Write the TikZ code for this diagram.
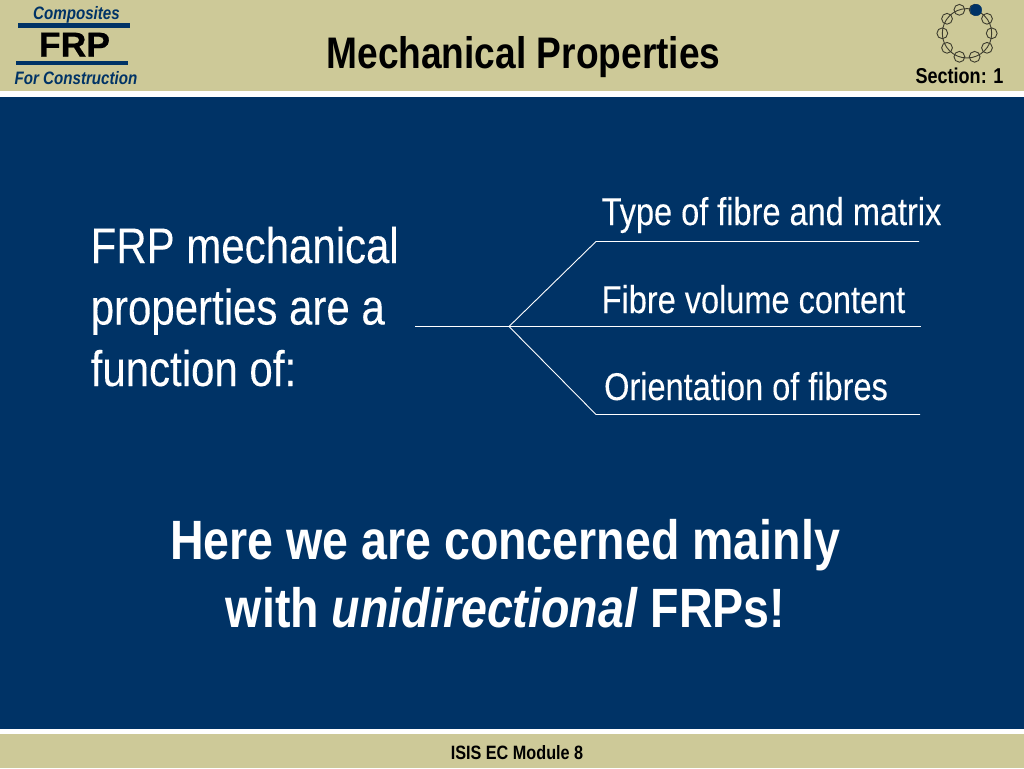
\documentclass[tikz,border=0pt]{standalone}
\usepackage{fontspec}
\setmainfont[FakeStretch=0.84]{Liberation Sans}
\definecolor{khaki}{HTML}{CDC998}
\definecolor{navy}{HTML}{003366}
\begin{document}
\begin{tikzpicture}[x=1pt,y=-1pt]
\tikzset{rule/.style = {draw=white,line width=0.9pt}}
\tikzset{bar/.style = {draw=navy,line width=4.5pt}}
\tikzset{txt/.style = {inner sep=0pt,anchor=base west,text=white,font=\fontsize{50}{50}\selectfont\addfontfeature{FakeBold=0.15}}}
\tikzset{item/.style = {inner sep=0pt,anchor=base,text=white,font=\fontsize{38.7}{38.7}\selectfont\addfontfeature{FakeBold=0.15}}}
\tikzset{big/.style = {inner sep=0pt,anchor=base,text=white,font=\fontsize{55.4}{55.4}\selectfont\bfseries}}
\tikzset{logo/.style = {inner sep=0pt,anchor=base,text=navy,font=\fontsize{18}{18}\selectfont\bfseries\itshape}}
\tikzset{head/.style = {inner sep=0pt,anchor=base,font=\bfseries}}
\tikzset{link/.style = {draw=black!70!khaki,line width=0.9pt,fill=none}}
\useasboundingbox (0,0) rectangle (1024,768);
\fill[khaki] (0,0) rectangle (1024,768);
\fill[white] (0,91) rectangle (1024,734);
\fill[navy] (0,96.5) rectangle (1024,728.5);

% header
\node[logo] (comp) at (76.5,20) {Composites};
\node[logo] (cons) at (76,84) {For Construction};
\coordinate (b1) at (18,25.7);
\coordinate (b2) at (130,25.7);
\coordinate (b3) at (16,63);
\coordinate (b4) at (128,63);
\draw[bar] (b1) -- (b2);
\draw[bar] (b3) -- (b4);
\node[head,font=\fontsize{34.5}{34.5}\selectfont\bfseries] (frp) at (74.5,56.5) {\addfontfeature{FakeStretch=1.03,FakeBold=0.6}FRP};
\node[head,font=\fontsize{44.2}{44.2}\selectfont\bfseries] (title) at (523.5,68.5) {Mechanical Properties};
\node[head,font=\fontsize{21.5}{21.5}\selectfont\bfseries] (sec) at (959.5,83) {Section: 1};
\node[head,font=\fontsize{19.3}{19.3}\selectfont\bfseries] (mod) at (517,759) {ISIS EC Module 8};

% ring
\node[circle,minimum size=49.4pt,inner sep=0pt,link,draw] (ring) at (967,33.3) {};
\foreach \a in {0,36,...,324}
  \draw[link] (ring.center) ++(\a:24.7) circle (5.4);
\node[circle,minimum size=11.5pt,inner sep=0pt,fill=navy,draw=navy] (dot) at (976,10) {};

% left text
\node[txt] (l1) at (90.5,263) {FRP mechanical};
\node[txt] (l2) at (90.5,324.5) {properties are a};
\node[txt] (l3) at (90.5,386) {function of:};

% branches
\coordinate (s) at (415,326.5);
\coordinate (j) at (509,326.5);
\coordinate (t1) at (596,241.5);
\coordinate (t2) at (921,326.5);
\coordinate (t3) at (596,414.5);
\coordinate (e1) at (919,241.5);
\coordinate (e3) at (920,414.5);
\draw[rule] (s) -- (j) -- (t2);
\draw[rule] (j) -- (t1) -- (e1);
\draw[rule] (j) -- (t3) -- (e3);
\node[item] (i1) at (771.5,225) {Type of fibre and matrix};
\node[item] (i2) at (753.5,313) {Fibre volume content};
\node[item] (i3) at (746,400) {Orientation of fibres};

% bottom
\node[big] (h1) at (505,559) {Here we are concerned mainly};
\node[big] (h2) at (505.5,627) {with \textit{unidirectional} FRPs!};
\end{tikzpicture}
\end{document}
